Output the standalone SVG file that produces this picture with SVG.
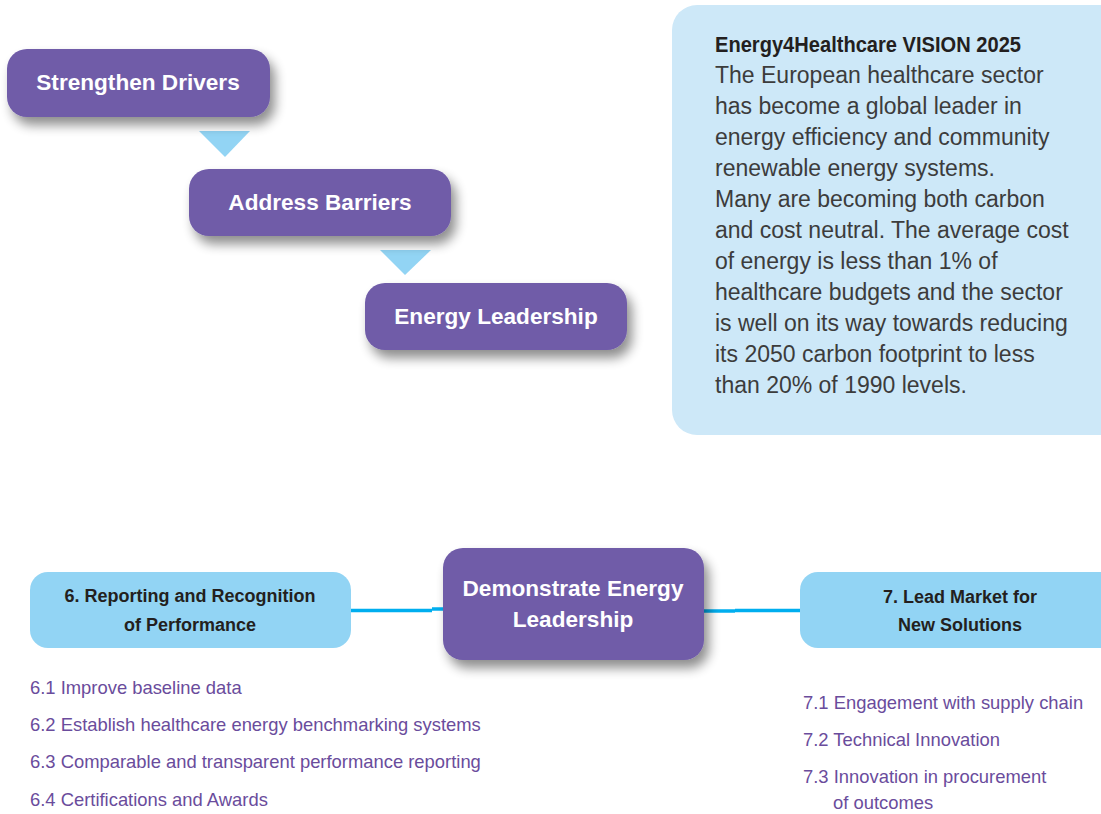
<svg xmlns="http://www.w3.org/2000/svg" width="1101" height="814" viewBox="0 0 1101 814">
<defs>
<filter id="sh" x="-20%" y="-20%" width="150%" height="170%">
<feGaussianBlur in="SourceAlpha" stdDeviation="6"/>
<feOffset dx="5" dy="8" result="b"/>
<feComponentTransfer><feFuncA type="linear" slope="0.45"/></feComponentTransfer>
<feMerge><feMergeNode/><feMergeNode in="SourceGraphic"/></feMerge>
</filter>
<style>
.p{fill:#6f5ba8;filter:url(#sh)}
.pt{fill:#ffffff;font-family:"Liberation Sans",Arial,sans-serif;font-weight:bold;font-size:22.6px;text-anchor:middle}
.tri{fill:#92d4f4}
.lb{fill:#92d4f4}
.lbt{fill:#231f20;font-family:"Liberation Sans",Arial,sans-serif;font-weight:bold;font-size:18px;text-anchor:middle}
.li{fill:#6a4c9c;font-family:"Liberation Sans",Arial,sans-serif;font-size:18.4px}
.vt{fill:#3c3c3c;font-family:"Liberation Sans",Arial,sans-serif;font-size:23px}
.con{stroke:#00aeef;stroke-width:3.5;fill:none}
</style>
</defs>
<rect width="1101" height="814" fill="#ffffff"/>

<g id="vision">
<rect x="672" y="5" width="460" height="430" rx="25" fill="#cde8f8"/>
<text x="715" y="52" fill="#231f20" font-family="'Liberation Sans',Arial,sans-serif" font-weight="bold" font-size="22.5" textLength="306" lengthAdjust="spacingAndGlyphs">Energy4Healthcare VISION 2025</text>
<text class="vt" x="715" y="83">The European healthcare sector</text>
<text class="vt" x="715" y="114">has become a global leader in</text>
<text class="vt" x="715" y="145">energy efficiency and community</text>
<text class="vt" x="715" y="176">renewable energy systems.</text>
<text class="vt" x="715" y="207">Many are becoming both carbon</text>
<text class="vt" x="715" y="238">and cost neutral. The average cost</text>
<text class="vt" x="715" y="269">of energy is less than 1% of</text>
<text class="vt" x="715" y="300">healthcare budgets and the sector</text>
<text class="vt" x="715" y="331">is well on its way towards reducing</text>
<text class="vt" x="715" y="362">its 2050 carbon footprint to less</text>
<text class="vt" x="715" y="393">than 20% of 1990 levels.</text>
</g>

<g id="connectors">
<polygon class="tri" points="199,131 250,131 225,157"/>
<polygon class="tri" points="380,250 431,250 405,275"/>
<path class="con" d="M351,610.5 H432 M432,609 H443"/>
<path class="con" d="M704,611 H735 M735,610.5 H800"/>
</g>

<g id="strengthen-drivers">
<rect class="p" x="7" y="49" width="263" height="68" rx="20"/>
<text class="pt" x="138" y="90">Strengthen Drivers</text>
</g>
<g id="address-barriers">
<rect class="p" x="189" y="169" width="262" height="67" rx="20"/>
<text class="pt" x="320" y="210">Address Barriers</text>
</g>
<g id="energy-leadership">
<rect class="p" x="365" y="283" width="262" height="67" rx="20"/>
<text class="pt" x="496" y="324">Energy Leadership</text>
</g>

<g id="demonstrate">
<rect class="p" x="443" y="548" width="261" height="112" rx="20"/>
<text class="pt" x="573" y="596">Demonstrate Energy</text>
<text class="pt" x="573" y="627">Leadership</text>
</g>

<g id="reporting">
<rect class="lb" x="30" y="572" width="321" height="76" rx="18"/>
<text class="lbt" x="190" y="602">6. Reporting and Recognition</text>
<text class="lbt" x="190" y="631">of Performance</text>
</g>
<g id="reporting-items">
<text class="li" x="30" y="694">6.1 Improve baseline data</text>
<text class="li" x="30" y="731">6.2 Establish healthcare energy benchmarking systems</text>
<text class="li" x="30" y="768">6.3 Comparable and transparent performance reporting</text>
<text class="li" x="30" y="806">6.4 Certifications and Awards</text>
</g>

<g id="lead-market">
<rect class="lb" x="800" y="572" width="330" height="76" rx="18"/>
<text class="lbt" x="960" y="603">7. Lead Market for</text>
<text class="lbt" x="960" y="631">New Solutions</text>
</g>
<g id="lead-market-items">
<text class="li" x="803" y="709">7.1 Engagement with supply chain</text>
<text class="li" x="803" y="746">7.2 Technical Innovation</text>
<text class="li" x="803" y="783">7.3 Innovation in procurement</text>
<text class="li" x="833" y="809">of outcomes</text>
</g>
</svg>
